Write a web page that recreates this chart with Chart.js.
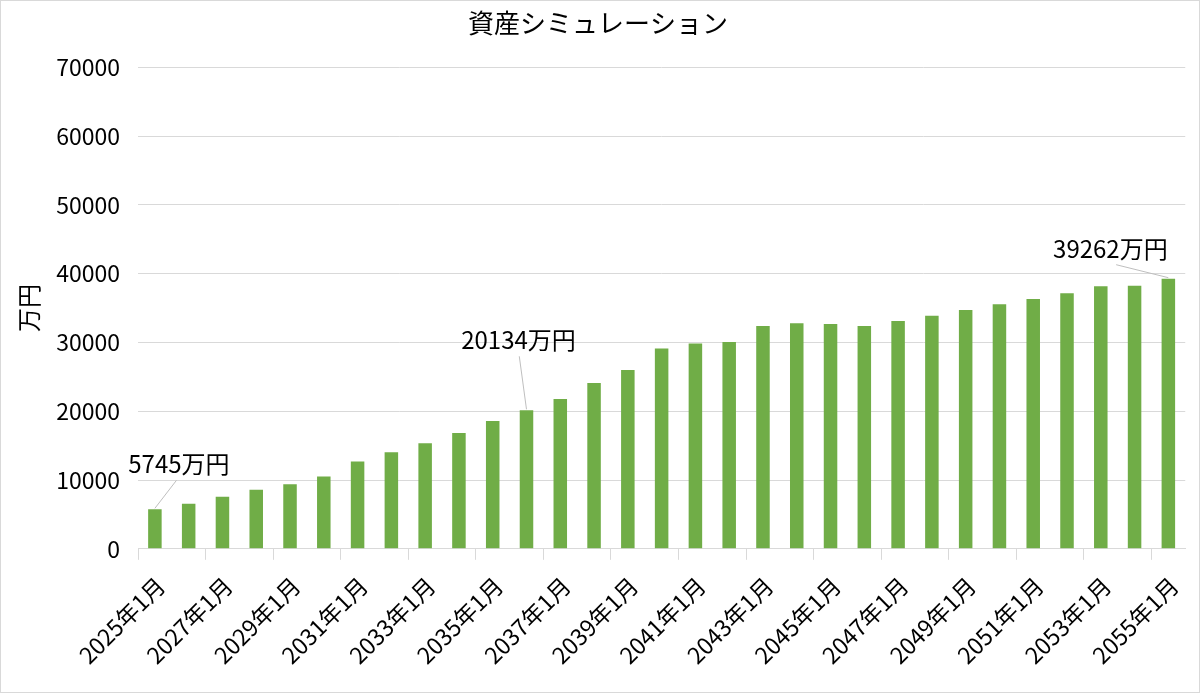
<!DOCTYPE html>
<html lang="ja">
<head>
<meta charset="utf-8">
<title>資産シミュレーション</title>
<script src="https://cdn.jsdelivr.net/npm/chart.js@4.4.1/dist/chart.umd.min.js"></script>
<style>
  html, body { margin: 0; padding: 0; background: #fff; }
  #wrap { width: 1200px; height: 693px; position: relative; }
</style>
</head>
<body>
<div id="wrap"><canvas id="chart"></canvas></div>
<script>
// 年ごとのカテゴリ (1月時点)
const years = [2025, 2026, 2027, 2028, 2029, 2030, 2031, 2032, 2033, 2034, 2035,
  2036, 2037, 2038, 2039, 2040, 2041, 2042, 2043, 2044, 2045, 2046, 2047, 2048,
  2049, 2050, 2051, 2052, 2053, 2054, 2055];
const categories = years.map(y => y + '年1月');

// 資産額 (万円)
const assets = [5745, 6550, 7570, 8590, 9400, 10520, 12700, 14020, 15330, 16830,
  18570, 20134, 21760, 24090, 25980, 29130, 29860, 30050, 32380, 32770, 32670,
  32380, 33100, 33890, 34710, 35540, 36310, 37140, 38150, 38250, 39262];

const yTicks = [0, 10000, 20000, 30000, 40000, 50000, 60000, 70000];

// ラベルを付けるバー
const labelIndexes = [0, 11, 30];
const labelOffsets = [[24, -45], [-8, -70], [-58, -30]];

const font = "'Noto Sans CJK JP', 'Noto Sans', sans-serif";
const gridColor = '#d9d9d9';

const callouts = {
  id: 'callouts',
  beforeDraw(chart) {
    const ctx = chart.ctx;
    ctx.save();
    ctx.fillStyle = '#fff';
    ctx.fillRect(0, 0, chart.width, chart.height);
    ctx.strokeStyle = gridColor;
    ctx.lineWidth = 1;
    ctx.strokeRect(0.5, 0.5, chart.width - 1, chart.height - 1);
    ctx.restore();
  },
  afterDatasetsDraw(chart) {
    const ctx = chart.ctx;
    const bars = chart.getDatasetMeta(0).data;
    ctx.save();
    ctx.font = '24px ' + font;
    ctx.textAlign = 'center';
    ctx.textBaseline = 'middle';
    labelIndexes.forEach((idx, k) => {
      const bar = bars[idx];
      const [dx, dy] = labelOffsets[k];
      const lx = bar.x + dx, ly = bar.y + dy;
      ctx.strokeStyle = '#bfbfbf';
      ctx.lineWidth = 1;
      ctx.beginPath();
      ctx.moveTo(bar.x, bar.y - 1);
      ctx.lineTo(lx + (bar.x - lx) * 0.1, ly + 16);
      ctx.stroke();
      ctx.fillStyle = '#000';
      ctx.fillText(assets[idx] + '万円', lx, ly);
    });
    ctx.restore();
  }
};

new Chart(document.getElementById('chart'), {
  type: 'bar',
  data: {
    labels: categories,
    datasets: [{
      label: '資産',
      data: assets,
      backgroundColor: '#70ad47',
      borderWidth: 0,
      barPercentage: 0.4,
      categoryPercentage: 1.0
    }]
  },
  options: {
    responsive: true,
    maintainAspectRatio: false,
    devicePixelRatio: 1,
    animation: false,
    layout: { padding: { left: 4, right: 8, top: 4, bottom: 12 } },
    plugins: {
      legend: { display: false },
      tooltip: { enabled: false },
      title: {
        display: true,
        text: '資産シミュレーション',
        color: '#000',
        font: { family: font, size: 26, weight: 'normal' },
        padding: { top: 4, bottom: 28 }
      }
    },
    scales: {
      x: {
        grid: {
          offset: true,
          drawOnChartArea: false,
          tickLength: 11,
          color: c => (c.index % 2 === 0 ? gridColor : 'rgba(0,0,0,0)')
        },
        border: { color: gridColor },
        ticks: {
          autoSkip: false,
          maxRotation: 45,
          minRotation: 45,
          color: '#000',
          font: { family: font, size: 23 },
          padding: 12,
          labelOffset: 6,
          callback: (v, i) => (i % 2 === 0 ? categories[i] : '')
        }
      },
      y: {
        min: 0,
        max: 70000,
        afterBuildTicks: axis => { axis.ticks = yTicks.map(v => ({ value: v })); },
        afterFit: axis => { axis.width = 134; },
        grid: { color: gridColor, drawTicks: false },
        border: { display: false },
        ticks: {
          color: '#000',
          font: { family: font, size: 23 },
          padding: 18,
          callback: v => String(v)
        },
        title: {
          display: true,
          text: '万円',
          color: '#000',
          font: { family: font, size: 24 },
          padding: { top: 10, bottom: 8 }
        }
      }
    }
  },
  plugins: [callouts]
});
</script>
</body>
</html>
